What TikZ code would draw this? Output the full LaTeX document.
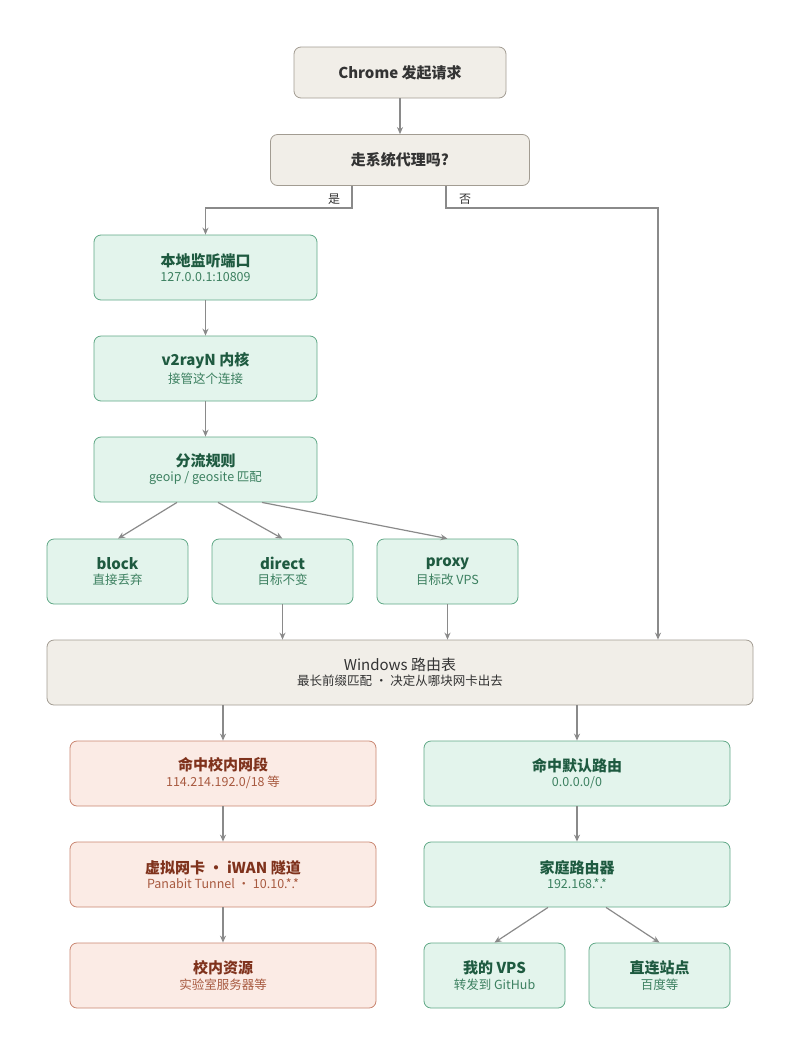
\documentclass[tikz,border=0pt]{standalone}
\usepackage{fontspec}
\setmainfont{Noto Sans CJK SC}
\usetikzlibrary{arrows.meta}
\definecolor{neutralfill}{HTML}{F1EEE8}
\definecolor{neutraldraw}{HTML}{A29C92}
\definecolor{neutraltext}{HTML}{333333}
\definecolor{greenfill}{HTML}{E3F4EC}
\definecolor{greendraw}{HTML}{5FA886}
\definecolor{greentext}{HTML}{1E5A40}
\definecolor{greensub}{HTML}{3C8060}
\definecolor{redfill}{HTML}{FBEBE5}
\definecolor{reddraw}{HTML}{C98570}
\definecolor{redtext}{HTML}{7F321C}
\definecolor{redsub}{HTML}{A85A40}
\definecolor{linkgray}{HTML}{8A8A8A}
\newcommand{\boxtext}[2]{\textbf{\fontsize{15}{18}\selectfont #1}\\[3pt]{\fontsize{12.5}{15}\selectfont #2}}

\begin{document}
\begin{tikzpicture}[
  x=1pt, y=-1pt,
  box/.style={
    rounded corners=7pt,
    line width=0.8pt,
    align=center,
    inner sep=0pt
  },
  neutralbox/.style={box, fill=neutralfill, draw=neutraldraw, text=neutraltext},
  greenbox/.style={box, fill=greenfill, draw=greendraw, text=greentext},
  redbox/.style={box, fill=redfill, draw=reddraw, text=redtext},
  link/.style={
    -{Stealth[length=7pt,width=6pt]},
    draw=linkgray,
    line width=1.2pt
  }
]
  \useasboundingbox (0,0) rectangle (800,1045);
  % start
  \node[neutralbox, minimum width=212pt, minimum height=51pt] (chrome) at (400,72.5)
    {\textbf{\fontsize{15}{18}\selectfont Chrome 发起请求}};
  \node[neutralbox, minimum width=259pt, minimum height=51pt] (ask) at (400,160)
    {\textbf{\fontsize{15}{18}\selectfont 走系统代理吗?}};
  % proxy branch
  \node[greenbox, minimum width=223pt, minimum height=65pt] (listen) at (205.5,267.5)
    {\boxtext{本地监听端口}{\color{greensub}127.0.0.1:10809}};
  \node[greenbox, minimum width=223pt, minimum height=65pt] (core) at (205.5,368.5)
    {\boxtext{v2rayN 内核}{\color{greensub}接管这个连接}};
  \node[greenbox, minimum width=223pt, minimum height=65pt] (rules) at (205.5,469.5)
    {\boxtext{分流规则}{\color{greensub}geoip / geosite 匹配}};
  \node[greenbox, minimum width=141pt, minimum height=65pt] (block) at (117.5,571.5)
    {\boxtext{block}{\color{greensub}直接丢弃}};
  \node[greenbox, minimum width=141pt, minimum height=65pt] (direct) at (282.5,571.5)
    {\boxtext{direct}{\color{greensub}目标不变}};
  \node[greenbox, minimum width=141pt, minimum height=65pt] (proxy) at (447.5,571.5)
    {\boxtext{proxy}{\color{greensub}目标改 VPS}};
  % routing table
  \node[neutralbox, minimum width=706pt, minimum height=65pt] (route) at (400,672.5)
    {{\fontsize{15}{18}\selectfont Windows 路由表}\\[3pt]{\fontsize{12.5}{15}\selectfont 最长前缀匹配 · 决定从哪块网卡出去}};
  % campus side
  \node[redbox, minimum width=306pt, minimum height=65pt] (campus) at (223,773.5)
    {\boxtext{命中校内网段}{\color{redsub}114.214.192.0/18 等}};
  \node[redbox, minimum width=306pt, minimum height=65pt] (tunnel) at (223,874.5)
    {\boxtext{虚拟网卡 · iWAN 隧道}{\color{redsub}Panabit Tunnel · 10.10.*.*}};
  \node[redbox, minimum width=306pt, minimum height=65pt] (res) at (223,975.5)
    {\boxtext{校内资源}{\color{redsub}实验室服务器等}};
  % default side
  \node[greenbox, minimum width=306pt, minimum height=65pt] (default) at (577,773.5)
    {\boxtext{命中默认路由}{\color{greensub}0.0.0.0/0}};
  \node[greenbox, minimum width=306pt, minimum height=65pt] (home) at (577,874.5)
    {\boxtext{家庭路由器}{\color{greensub}192.168.*.*}};
  \node[greenbox, minimum width=141pt, minimum height=65pt] (vps) at (494.5,975.5)
    {\boxtext{我的 VPS}{\color{greensub}转发到 GitHub}};
  \node[greenbox, minimum width=141pt, minimum height=65pt] (site) at (659.5,975.5)
    {\boxtext{直连站点}{\color{greensub}百度等}};

  \draw[link] (chrome) -- (ask);
  \draw[link] (ask.south -| 352,0) |- (205.5,208) -- (listen);
  \draw[link] (ask.south -| 446,0) |- (658,208) -- (route.north -| 658,0);
  \node[font=\fontsize{12}{14}\selectfont, text=neutraltext] (yes) at (334,199) {是};
  \node[font=\fontsize{12}{14}\selectfont, text=neutraltext] (no) at (465,199) {否};
  \draw[link] (listen) -- (core);
  \draw[link] (core) -- (rules);
  \draw[link] (rules.south -| 177,0) -- (block.north -| 118,0);
  \draw[link] (rules.south -| 218,0) -- (direct.north);
  \draw[link] (rules.south -| 262,0) -- (proxy.north);
  \draw[link] (direct) -- (route.north -| direct);
  \draw[link] (proxy) -- (route.north -| proxy);
  \draw[link] (route.south -| campus) -- (campus);
  \draw[link] (route.south -| default) -- (default);
  \draw[link] (campus) -- (tunnel);
  \draw[link] (tunnel) -- (res);
  \draw[link] (default) -- (home);
  \draw[link] (home.south -| 548,0) -- (vps.north);
  \draw[link] (home.south -| 606,0) -- (site.north);
\end{tikzpicture}
\end{document}
